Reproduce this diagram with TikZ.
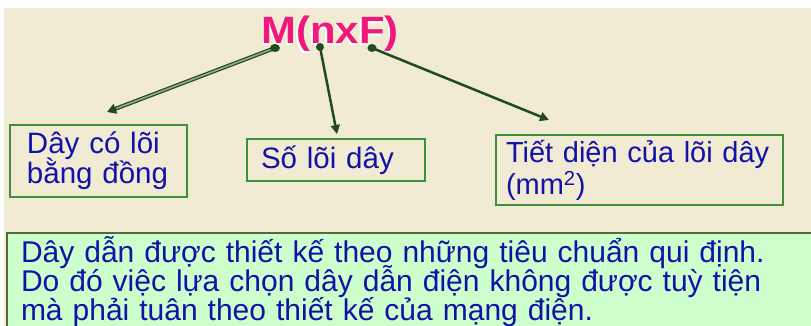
\documentclass[tikz,border=0pt]{standalone}
\usepackage{fontspec}
\setmainfont{Liberation Sans}
\usetikzlibrary{arrows.meta}
\definecolor{bgcream}{HTML}{F2EBD3}
\definecolor{boxgreen}{HTML}{3E8E3E}
\definecolor{txtblue}{HTML}{1212A8}
\definecolor{titlepink}{HTML}{F0187C}
\definecolor{arrowgreen}{HTML}{1F4A22}
\definecolor{arrowlight}{HTML}{9AA88A}
\definecolor{notefill}{HTML}{CCFFCC}
\definecolor{noteborder}{HTML}{56683E}
\newcommand\mytightlines{\lineskiplimit=-100pt\relax}
\newcommand\mylblfont{\fontsize{29.5}{30}\selectfont\mytightlines}
\newcommand\mylblfontb{\fontsize{29}{32}\selectfont\mytightlines}
\newcommand\mynotefont{\fontsize{30}{29}\selectfont\mytightlines}
\begin{document}
\begin{tikzpicture}[x=1pt,y=-1pt,
  lblbox/.style={draw=boxgreen, line width=2pt, text=txtblue,
    font=\mylblfont, inner sep=0pt},
  notebox/.style={draw=noteborder, fill=notefill, line width=2pt, text=txtblue,
    font=\mynotefont, inner sep=0pt, align=left},
  conn/.style={arrowgreen, line width=2.5pt, -{Triangle[length=9pt,width=9pt]}},
  startdot/.style={fill=arrowgreen}
]
\useasboundingbox (0,0) rectangle (811,326);
\fill[white] (0,0) rectangle (811,326);
\fill[bgcream] (4,8) rectangle (811,326);

% title with white shadow
\node[font=\bfseries\fontsize{38}{38}\selectfont, text=white] at (328.5,35.5) {\scalebox{1.1}[1]{M(nxF)}};
\node[font=\bfseries\fontsize{38}{38}\selectfont, text=titlepink] (title) at (330,34) {\scalebox{1.1}[1]{M(nxF)}};

% boxes
\node[lblbox, minimum width=177pt, minimum height=71pt, text width=143pt, align=left] (b1) at (98.5,161) {Dây có lõi\\bằng đồng};
\node[lblbox, minimum width=178pt, minimum height=42pt, text width=150pt, align=left] (b2) at (336,160) {Số lõi dây};
\node[lblbox, font=\mylblfontb, minimum width=287pt, minimum height=70pt, text width=267pt, align=left] (b3) at (639.5,170) {Tiết diện của lõi dây\\(mm\textsuperscript{2})};

\node[notebox, minimum width=808pt, minimum height=98pt, text width=780pt] (note) at (411,282)
  {Dây dẫn được thiết kế theo những tiêu chuẩn qui định.\\Do đó việc lựa chọn dây dẫn điện không được tuỳ tiện\\mà phải tuân theo thiết kế của mạng điện.};

% connectors
\coordinate (s1) at (275,48);
\coordinate (s2) at (320,47);
\coordinate (s3) at (372,48);
\coordinate (t1) at (107,112);
\coordinate (t2) at (337,134);
\coordinate (t3) at (549,120);

\draw[arrowgreen, line width=4pt, -{Triangle[length=9pt,width=10pt]}] (s1) -- (t1);
\draw[arrowlight, line width=1.6pt, shorten >=10pt] (s1) -- (t1);
\draw[conn] (s2) -- (t2);
\draw[conn] (s3) -- (t3);
\fill[startdot] (s1) ellipse (5pt and 4pt);
\fill[startdot] (s2) ellipse (4pt and 4pt);
\fill[startdot] (s3) ellipse (4.5pt and 4pt);
\end{tikzpicture}
\end{document}
